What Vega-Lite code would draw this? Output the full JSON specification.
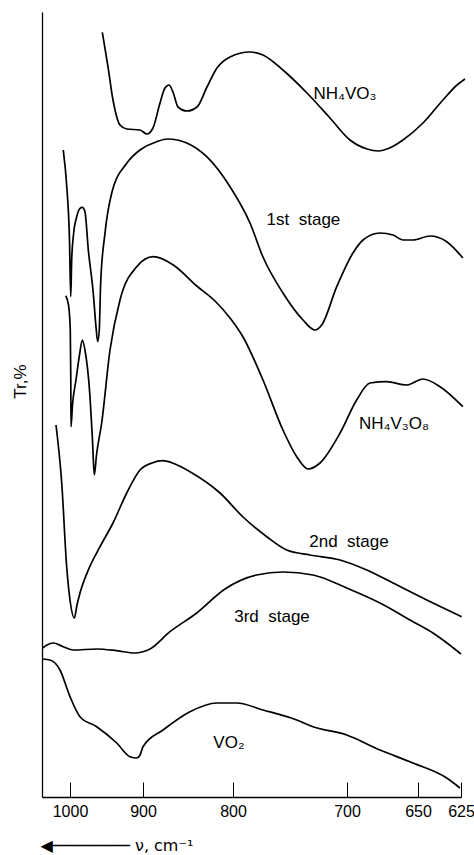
{
  "$schema": "https://vega.github.io/schema/vega-lite/v6.json",
  "width": 419,
  "height": 785,
  "autosize": "none",
  "padding": {"left": 42, "top": 12, "right": 13, "bottom": 58},
  "background": "white",
  "config": {"view": {"stroke": null}, "font": "Liberation Sans"},
  "datasets": {
    "spectra": [
      {"s": "NH4VO3", "nu": 955.7, "tr": 764.7},
      {"s": "NH4VO3", "nu": 947.9, "tr": 730},
      {"s": "NH4VO3", "nu": 941.1, "tr": 697},
      {"s": "NH4VO3", "nu": 931.5, "tr": 672},
      {"s": "NH4VO3", "nu": 922.3, "tr": 668},
      {"s": "NH4VO3", "nu": 904.1, "tr": 667},
      {"s": "NH4VO3", "nu": 895.6, "tr": 663},
      {"s": "NH4VO3", "nu": 888.9, "tr": 669},
      {"s": "NH4VO3", "nu": 881.1, "tr": 694},
      {"s": "NH4VO3", "nu": 875.6, "tr": 709},
      {"s": "NH4VO3", "nu": 871.1, "tr": 712},
      {"s": "NH4VO3", "nu": 866.7, "tr": 705},
      {"s": "NH4VO3", "nu": 861.1, "tr": 690},
      {"s": "NH4VO3", "nu": 851.1, "tr": 686},
      {"s": "NH4VO3", "nu": 840.0, "tr": 690},
      {"s": "NH4VO3", "nu": 828.9, "tr": 710},
      {"s": "NH4VO3", "nu": 817.8, "tr": 729},
      {"s": "NH4VO3", "nu": 803.3, "tr": 740},
      {"s": "NH4VO3", "nu": 785.1, "tr": 745},
      {"s": "NH4VO3", "nu": 773.7, "tr": 742},
      {"s": "NH4VO3", "nu": 756.2, "tr": 727},
      {"s": "NH4VO3", "nu": 735.1, "tr": 704},
      {"s": "NH4VO3", "nu": 714.9, "tr": 679},
      {"s": "NH4VO3", "nu": 697.9, "tr": 657},
      {"s": "NH4VO3", "nu": 685.9, "tr": 648},
      {"s": "NH4VO3", "nu": 678.0, "tr": 646},
      {"s": "NH4VO3", "nu": 670.0, "tr": 649},
      {"s": "NH4VO3", "nu": 660.6, "tr": 657},
      {"s": "NH4VO3", "nu": 647.1, "tr": 674},
      {"s": "NH4VO3", "nu": 635.5, "tr": 697},
      {"s": "NH4VO3", "nu": 627.3, "tr": 712},
      {"s": "NH4VO3", "nu": 622.7, "tr": 718},

      {"s": "1st", "nu": 1010.8, "tr": 647},
      {"s": "1st", "nu": 1004.8, "tr": 607},
      {"s": "1st", "nu": 1000.8, "tr": 557},
      {"s": "1st", "nu": 999.0, "tr": 500.3},
      {"s": "1st", "nu": 997.7, "tr": 537},
      {"s": "1st", "nu": 995.5, "tr": 560.3},
      {"s": "1st", "nu": 990.8, "tr": 580.3},
      {"s": "1st", "nu": 986.3, "tr": 588.7},
      {"s": "1st", "nu": 983.1, "tr": 589.7},
      {"s": "1st", "nu": 979.5, "tr": 585.3},
      {"s": "1st", "nu": 974.9, "tr": 547},
      {"s": "1st", "nu": 968.1, "tr": 503.7},
      {"s": "1st", "nu": 964.4, "tr": 470.3},
      {"s": "1st", "nu": 962.1, "tr": 455.3},
      {"s": "1st", "nu": 959.9, "tr": 467},
      {"s": "1st", "nu": 958.0, "tr": 513.7},
      {"s": "1st", "nu": 952.1, "tr": 563.7},
      {"s": "1st", "nu": 942.9, "tr": 603.7},
      {"s": "1st", "nu": 922.3, "tr": 633.7},
      {"s": "1st", "nu": 904.1, "tr": 647},
      {"s": "1st", "nu": 884.8, "tr": 655.3},
      {"s": "1st", "nu": 872.2, "tr": 658},
      {"s": "1st", "nu": 851.4, "tr": 654},
      {"s": "1st", "nu": 829.2, "tr": 640.3},
      {"s": "1st", "nu": 803.3, "tr": 610.3},
      {"s": "1st", "nu": 785.1, "tr": 574},
      {"s": "1st", "nu": 773.7, "tr": 540},
      {"s": "1st", "nu": 756.2, "tr": 504},
      {"s": "1st", "nu": 738.6, "tr": 477},
      {"s": "1st", "nu": 728.1, "tr": 467},
      {"s": "1st", "nu": 722.2, "tr": 472},
      {"s": "1st", "nu": 709.0, "tr": 510.3},
      {"s": "1st", "nu": 695.8, "tr": 544},
      {"s": "1st", "nu": 688.7, "tr": 557},
      {"s": "1st", "nu": 676.8, "tr": 564},
      {"s": "1st", "nu": 667.6, "tr": 562},
      {"s": "1st", "nu": 660.6, "tr": 557},
      {"s": "1st", "nu": 653.5, "tr": 557},
      {"s": "1st", "nu": 643.0, "tr": 561},
      {"s": "1st", "nu": 633.3, "tr": 555.3},
      {"s": "1st", "nu": 623.9, "tr": 539},

      {"s": "NH4V3O8", "nu": 1006.9, "tr": 501.3},
      {"s": "NH4V3O8", "nu": 1002.4, "tr": 492},
      {"s": "NH4V3O8", "nu": 999.6, "tr": 467},
      {"s": "NH4V3O8", "nu": 998.9, "tr": 417},
      {"s": "NH4V3O8", "nu": 998.6, "tr": 370.3},
      {"s": "NH4V3O8", "nu": 996.6, "tr": 392},
      {"s": "NH4V3O8", "nu": 991.8, "tr": 417},
      {"s": "NH4V3O8", "nu": 987.0, "tr": 442},
      {"s": "NH4V3O8", "nu": 983.1, "tr": 457},
      {"s": "NH4V3O8", "nu": 979.5, "tr": 447},
      {"s": "NH4V3O8", "nu": 972.6, "tr": 400.3},
      {"s": "NH4V3O8", "nu": 969.2, "tr": 357},
      {"s": "NH4V3O8", "nu": 966.7, "tr": 322},
      {"s": "NH4V3O8", "nu": 963.7, "tr": 342},
      {"s": "NH4V3O8", "nu": 956.6, "tr": 374},
      {"s": "NH4V3O8", "nu": 945.2, "tr": 447},
      {"s": "NH4V3O8", "nu": 931.5, "tr": 497},
      {"s": "NH4V3O8", "nu": 908.6, "tr": 530.3},
      {"s": "NH4V3O8", "nu": 888.6, "tr": 540.3},
      {"s": "NH4V3O8", "nu": 866.3, "tr": 532},
      {"s": "NH4V3O8", "nu": 840.3, "tr": 511},
      {"s": "NH4V3O8", "nu": 820.0, "tr": 496},
      {"s": "NH4V3O8", "nu": 803.3, "tr": 479},
      {"s": "NH4V3O8", "nu": 791.2, "tr": 460},
      {"s": "NH4V3O8", "nu": 773.7, "tr": 417},
      {"s": "NH4V3O8", "nu": 756.2, "tr": 367},
      {"s": "NH4V3O8", "nu": 744.1, "tr": 340.3},
      {"s": "NH4V3O8", "nu": 734.2, "tr": 328},
      {"s": "NH4V3O8", "nu": 723.7, "tr": 334},
      {"s": "NH4V3O8", "nu": 706.1, "tr": 364},
      {"s": "NH4V3O8", "nu": 693.2, "tr": 397},
      {"s": "NH4V3O8", "nu": 683.8, "tr": 414},
      {"s": "NH4V3O8", "nu": 672.1, "tr": 415.3},
      {"s": "NH4V3O8", "nu": 658.0, "tr": 412},
      {"s": "NH4V3O8", "nu": 647.1, "tr": 418},
      {"s": "NH4V3O8", "nu": 637.2, "tr": 410.3},
      {"s": "NH4V3O8", "nu": 623.9, "tr": 390.3},

      {"s": "2nd", "nu": 1022.5, "tr": 372},
      {"s": "2nd", "nu": 1013.3, "tr": 314},
      {"s": "2nd", "nu": 1005.3, "tr": 230},
      {"s": "2nd", "nu": 1000.0, "tr": 197},
      {"s": "2nd", "nu": 994.1, "tr": 179},
      {"s": "2nd", "nu": 990.4, "tr": 192},
      {"s": "2nd", "nu": 986.3, "tr": 204},
      {"s": "2nd", "nu": 974.9, "tr": 227},
      {"s": "2nd", "nu": 958.9, "tr": 250.3},
      {"s": "2nd", "nu": 941.1, "tr": 274},
      {"s": "2nd", "nu": 922.3, "tr": 304},
      {"s": "2nd", "nu": 904.1, "tr": 327},
      {"s": "2nd", "nu": 890.0, "tr": 334},
      {"s": "2nd", "nu": 877.8, "tr": 336.3},
      {"s": "2nd", "nu": 864.4, "tr": 333},
      {"s": "2nd", "nu": 847.8, "tr": 325.3},
      {"s": "2nd", "nu": 814.4, "tr": 304},
      {"s": "2nd", "nu": 791.2, "tr": 280},
      {"s": "2nd", "nu": 770.4, "tr": 260.3},
      {"s": "2nd", "nu": 752.9, "tr": 247},
      {"s": "2nd", "nu": 732.5, "tr": 242},
      {"s": "2nd", "nu": 706.1, "tr": 237},
      {"s": "2nd", "nu": 686.1, "tr": 227},
      {"s": "2nd", "nu": 667.6, "tr": 214},
      {"s": "2nd", "nu": 644.9, "tr": 197},
      {"s": "2nd", "nu": 624.6, "tr": 180.3},

      {"s": "3rd", "nu": 1043.9, "tr": 149},
      {"s": "3rd", "nu": 1037.0, "tr": 152},
      {"s": "3rd", "nu": 1026.8, "tr": 154},
      {"s": "3rd", "nu": 1010.8, "tr": 150.3},
      {"s": "3rd", "nu": 995.5, "tr": 147},
      {"s": "3rd", "nu": 963.4, "tr": 148},
      {"s": "3rd", "nu": 936.0, "tr": 146.3},
      {"s": "3rd", "nu": 911.0, "tr": 144},
      {"s": "3rd", "nu": 901.4, "tr": 145},
      {"s": "3rd", "nu": 892.2, "tr": 148},
      {"s": "3rd", "nu": 870.0, "tr": 165.3},
      {"s": "3rd", "nu": 840.3, "tr": 184},
      {"s": "3rd", "nu": 808.9, "tr": 208},
      {"s": "3rd", "nu": 779.2, "tr": 222},
      {"s": "3rd", "nu": 756.2, "tr": 225},
      {"s": "3rd", "nu": 729.8, "tr": 222},
      {"s": "3rd", "nu": 700.3, "tr": 209},
      {"s": "3rd", "nu": 676.8, "tr": 194},
      {"s": "3rd", "nu": 653.5, "tr": 175.3},
      {"s": "3rd", "nu": 641.3, "tr": 164},
      {"s": "3rd", "nu": 625.0, "tr": 143},

      {"s": "VO2", "nu": 1043.9, "tr": 138},
      {"s": "VO2", "nu": 1032.1, "tr": 137},
      {"s": "VO2", "nu": 1016.1, "tr": 127},
      {"s": "VO2", "nu": 1000.0, "tr": 100.3},
      {"s": "VO2", "nu": 986.3, "tr": 80.3},
      {"s": "VO2", "nu": 963.4, "tr": 70.3},
      {"s": "VO2", "nu": 936.0, "tr": 54},
      {"s": "VO2", "nu": 917.8, "tr": 40.3},
      {"s": "VO2", "nu": 908.6, "tr": 39},
      {"s": "VO2", "nu": 904.1, "tr": 42},
      {"s": "VO2", "nu": 900.0, "tr": 50.3},
      {"s": "VO2", "nu": 877.8, "tr": 67},
      {"s": "VO2", "nu": 847.8, "tr": 85.3},
      {"s": "VO2", "nu": 818.1, "tr": 94},
      {"s": "VO2", "nu": 796.8, "tr": 94},
      {"s": "VO2", "nu": 773.7, "tr": 87},
      {"s": "VO2", "nu": 744.1, "tr": 77},
      {"s": "VO2", "nu": 729.8, "tr": 70.3},
      {"s": "VO2", "nu": 700.3, "tr": 62},
      {"s": "VO2", "nu": 676.8, "tr": 47},
      {"s": "VO2", "nu": 653.5, "tr": 34},
      {"s": "VO2", "nu": 633.3, "tr": 19},
      {"s": "VO2", "nu": 625.6, "tr": 9}
    ],
    "labels": [
      {"t": "NH₄VO₃", "nu": 701.8, "tr": 703},
      {"t": "1st\u00a0\u00a0stage", "nu": 738.2, "tr": 577},
      {"t": "NH₄V₃O₈", "nu": 666.9, "tr": 373},
      {"t": "2nd\u00a0\u00a0stage", "nu": 698.6, "tr": 255},
      {"t": "3rd\u00a0\u00a0stage", "nu": 765.8, "tr": 180},
      {"t": "VO₂", "nu": 804.5, "tr": 54}
    ]
  },
  "layer": [
    {
      "data": {"name": "spectra"},
      "mark": {"type": "line", "color": "black", "strokeWidth": 1.7, "interpolate": "monotone"},
      "encoding": {
        "x": {
          "field": "nu", "type": "quantitative",
          "scale": {"type": "linear", "domain": [1045, 1000, 900, 800, 700, 650, 625], "range": [0, 28, 101, 191, 305, 376, 419], "zero": false, "nice": false},
          "axis": {
            "values": [1000, 900, 800, 700, 650, 625],
            "format": "d",
            "domainColor": "black", "domainWidth": 1.3,
            "tickColor": "black", "tickWidth": 1, "tickSize": -15,
            "labelFont": "Liberation Sans", "labelFontSize": 16, "labelColor": "black",
            "labelPadding": 21, "labelFlush": false, "labelBound": false, "labelOverlap": false,
            "grid": false,
            "title": "◀────────  ν, cm⁻¹",
            "titleFont": "DejaVu Sans", "titleFontSize": 16, "titleFontWeight": "normal", "titleColor": "black",
            "titleAnchor": "start", "titleAlign": "left", "titleBaseline": "middle",
            "titleX": -2, "titleY": 48
          }
        },
        "y": {
          "field": "tr", "type": "quantitative",
          "scale": {"domain": [0, 785], "zero": false, "nice": false},
          "axis": {
            "ticks": false, "labels": false, "grid": false,
            "domainColor": "black", "domainWidth": 1.3,
            "title": "Tr,%",
            "titleFont": "Liberation Sans", "titleFontSize": 17, "titleFontWeight": "normal", "titleColor": "black",
            "titleAngle": -90, "titleAlign": "center", "titleBaseline": "middle",
            "titleX": -22, "titleY": 369
          }
        },
        "detail": {"field": "s"}
      }
    },
    {
      "data": {"name": "labels"},
      "mark": {"type": "text", "font": "Liberation Sans", "fontSize": 17, "color": "black", "align": "center", "baseline": "middle"},
      "encoding": {
        "x": {"field": "nu", "type": "quantitative"},
        "y": {"field": "tr", "type": "quantitative"},
        "text": {"field": "t"}
      }
    },
    {
      "mark": {"type": "point", "shape": "M0,-1L0.33,1L-0.33,1Z", "filled": true, "color": "black", "size": 576, "opacity": 1},
      "encoding": {
        "x": {"datum": 1045, "type": "quantitative"},
        "y": {"datum": 773, "type": "quantitative"}
      }
    }
  ]
}
